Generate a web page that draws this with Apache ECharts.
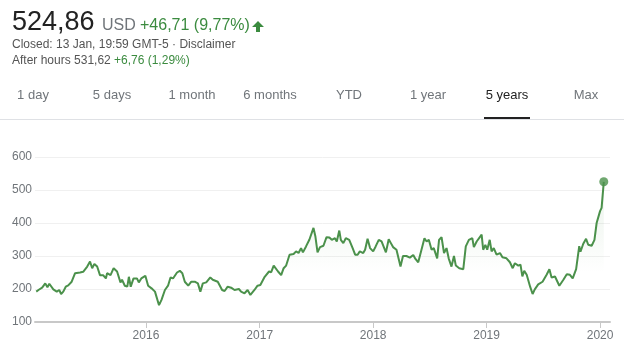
<!DOCTYPE html>
<html>
<head>
<meta charset="utf-8">
<script src="https://cdn.jsdelivr.net/npm/echarts@6/dist/echarts.min.js"></script>
<style>
  html, body { margin: 0; padding: 0; background: #fff; }
  #chart { width: 624px; height: 353px; }
</style>
</head>
<body>
<div id="chart"></div>
<script>
const dates = [
  '2015-01-13','2015-01-20','2015-02-01','2015-02-11','2015-02-18','2015-02-24','2015-03-09','2015-03-20','2015-03-28','2015-04-03',
  '2015-04-10','2015-04-18','2015-04-26','2015-05-07','2015-05-18','2015-06-03','2015-06-13','2015-06-26','2015-07-05','2015-07-12',
  '2015-07-19','2015-07-28','2015-08-06','2015-08-16','2015-08-25','2015-08-29','2015-09-09','2015-09-19','2015-09-30','2015-10-11',
  '2015-10-16','2015-10-25','2015-11-02','2015-11-07','2015-11-13','2015-11-22','2015-12-03','2015-12-09','2015-12-17','2015-12-30',
  '2016-01-08','2016-01-19','2016-01-30','2016-02-12','2016-02-20','2016-03-02','2016-03-12','2016-03-20','2016-03-28','2016-04-10',
  '2016-04-19','2016-04-27','2016-05-05','2016-05-16','2016-05-26','2016-06-06','2016-06-16','2016-06-24','2016-07-02','2016-07-13',
  '2016-07-26','2016-08-03','2016-08-19','2016-09-02','2016-09-10','2016-09-20','2016-10-01','2016-10-12','2016-10-26','2016-11-02',
  '2016-11-13','2016-11-18','2016-11-23','2016-12-02','2016-12-15','2016-12-25','2017-01-03','2017-01-17','2017-01-31','2017-02-07',
  '2017-02-15','2017-02-21','2017-03-01','2017-03-11','2017-03-19','2017-03-27','2017-04-07','2017-04-20','2017-04-28','2017-05-06',
  '2017-05-14','2017-05-20','2017-05-30','2017-06-10','2017-06-23','2017-06-29','2017-07-06','2017-07-14','2017-07-25','2017-08-04',
  '2017-08-13','2017-08-21','2017-08-31','2017-09-06','2017-09-14','2017-09-19','2017-09-27','2017-10-05','2017-10-16','2017-10-27',
  '2017-11-04','2017-11-12','2017-11-19','2017-11-30','2017-12-06','2017-12-14','2017-12-22','2018-01-01','2018-01-09','2018-01-19',
  '2018-01-28','2018-02-11','2018-02-20','2018-02-27','2018-03-06','2018-03-17','2018-03-30','2018-04-07','2018-04-18','2018-04-29',
  '2018-05-10','2018-05-17','2018-05-26','2018-06-04','2018-06-15','2018-06-22','2018-06-29','2018-07-08','2018-07-15','2018-07-26',
  '2018-08-01','2018-08-09','2018-08-17','2018-08-25','2018-09-01','2018-09-10','2018-09-18','2018-09-24','2018-10-05','2018-10-18',
  '2018-10-26','2018-11-05','2018-11-16','2018-11-21','2018-11-30','2018-12-16','2018-12-21','2018-12-28','2019-01-03','2019-01-11',
  '2019-01-17','2019-01-24','2019-02-02','2019-02-13','2019-02-21','2019-03-06','2019-03-17','2019-03-26','2019-04-02','2019-04-13',
  '2019-04-20','2019-04-26','2019-05-02','2019-05-10','2019-05-21','2019-05-29','2019-06-05','2019-06-16','2019-06-30','2019-07-13',
  '2019-07-22','2019-07-29','2019-08-09','2019-08-23','2019-09-05','2019-09-16','2019-09-26','2019-10-05','2019-10-16','2019-10-26',
  '2019-10-30','2019-11-08','2019-11-17','2019-11-24','2019-12-05','2019-12-14','2019-12-21','2020-01-01','2020-01-06','2020-01-13'
];
const prices = [
  192,197,204,217,205,216,199,192,197,185,
  192,207,211,222,248,250,252,268,283,263,
  276,268,242,242,232,248,242,263,253,220,
  228,210,207,237,207,232,232,220,232,240,
  210,202,192,151,167,197,210,235,232,250,
  255,248,222,210,222,222,217,192,217,220,
  235,228,222,197,194,207,204,197,200,192,
  187,185,197,182,197,210,212,237,253,251,
  271,274,253,242,263,271,304,306,314,309,
  324,311,329,350,385,360,311,327,331,357,
  356,349,354,344,377,349,339,354,349,324,
  304,304,314,309,319,352,324,314,329,349,
  344,311,351,339,327,319,268,300,300,295,
  303,291,281,314,354,344,349,319,324,293,
  349,357,309,324,293,268,300,271,263,260,
  329,349,354,327,344,365,319,334,319,349,
  314,324,304,309,296,293,281,263,278,271,
  274,238,255,243,207,185,199,214,222,243,
  260,235,238,210,228,245,243,232,260,330,
  313,337,352,334,331,349,400,436,446,524.86
];
const yearTicks = ['2016-01-01', '2017-01-01', '2018-01-01', '2019-01-01', '2020-01-01'];
const tabs = ['1 day', '5 days', '1 month', '6 months', 'YTD', '1 year', '5 years', 'Max'];
const activeTab = '5 years';

const green = '#4b914b';
const textGreen = '#3b8b3f';
const grey = '#70757a';
const font = '"Liberation Sans", Arial, sans-serif';

const tabX = [33, 112, 192, 270, 349, 428, 507, 586];

const ts = d => Date.parse(d + 'T00:00:00Z');
const series = dates.map((d, i) => [ts(d), prices[i]]);
const last = series[series.length - 1];
const tickValues = yearTicks.map(ts);

const chart = echarts.init(document.getElementById('chart'));

const headerGraphics = [
  { type: 'text', x: 12, y: 22.5, style: { text: '524,86', font: '27px ' + font, fill: '#222', verticalAlign: 'middle' } },
  { type: 'text', x: 102, y: 26, style: { text: 'USD', font: '16px ' + font, fill: grey, verticalAlign: 'middle' } },
  { type: 'text', x: 140, y: 26, style: { text: '+46,71 (9,77%)', font: '16px ' + font, fill: textGreen, verticalAlign: 'middle' } },
  { type: 'polygon', shape: { points: [[252, 27], [258, 21], [264, 27], [260, 27], [260, 32], [256, 32], [256, 27]] }, style: { fill: textGreen } },
  { type: 'text', x: 12, y: 44.5, style: { text: 'Closed: 13 Jan, 19:59 GMT-5 · Disclaimer', font: '12px ' + font, fill: '#545454', verticalAlign: 'middle' } },
  { type: 'text', x: 12, y: 60.5, style: { text: 'After hours 531,62', font: '12px ' + font, fill: '#545454', verticalAlign: 'middle' } },
  { type: 'text', x: 114, y: 60.5, style: { text: '+6,76 (1,29%)', font: '12px ' + font, fill: textGreen, verticalAlign: 'middle' } },
  { type: 'rect', shape: { x: 0, y: 119, width: 624, height: 1 }, style: { fill: '#dfe1e5' } }
];

tabs.forEach((t, i) => {
  headerGraphics.push({
    type: 'text', x: tabX[i], y: 95,
    style: { text: t, font: '13px ' + font, fill: t === activeTab ? '#222' : grey, align: 'center', verticalAlign: 'middle' }
  });
  if (t === activeTab) {
    headerGraphics.push({ type: 'rect', shape: { x: tabX[i] - 23, y: 117, width: 46, height: 2 }, style: { fill: '#222' } });
  }
});

chart.setOption({
  animation: false,
  backgroundColor: '#fff',
  graphic: headerGraphics,
  grid: { left: 35, right: 14, top: 157, bottom: 31 },
  xAxis: {
    type: 'value',
    min: ts('2015-01-09'),
    max: ts('2020-02-02'),
    axisLine: { lineStyle: { color: '#c8c8c8', width: 2 } },
    axisTick: { show: true, length: 6, lineStyle: { color: '#c8c8c8' }, customValues: tickValues },
    axisLabel: {
      customValues: tickValues,
      formatter: v => String(new Date(v).getUTCFullYear()),
      color: grey, fontSize: 12, fontFamily: font, margin: 8
    },
    splitLine: { show: false }
  },
  yAxis: {
    type: 'value',
    min: 100, max: 600, interval: 100,
    axisLine: { show: false },
    axisTick: { show: false },
    axisLabel: { color: grey, fontSize: 12, fontFamily: font, margin: 3 },
    splitLine: { lineStyle: { color: '#f0f0f0' } }
  },
  series: [
    {
      type: 'line',
      data: series,
      showSymbol: false,
      lineStyle: { color: green, width: 2 },
      areaStyle: {
        color: new echarts.graphic.LinearGradient(0, 0, 0, 1, [
          { offset: 0, color: 'rgba(75,145,75,0.16)' },
          { offset: 0.65, color: 'rgba(75,145,75,0)' }
        ])
      }
    },
    {
      type: 'scatter',
      data: [last],
      symbolSize: 9,
      itemStyle: { color: green }
    }
  ]
});
</script>
</body>
</html>
